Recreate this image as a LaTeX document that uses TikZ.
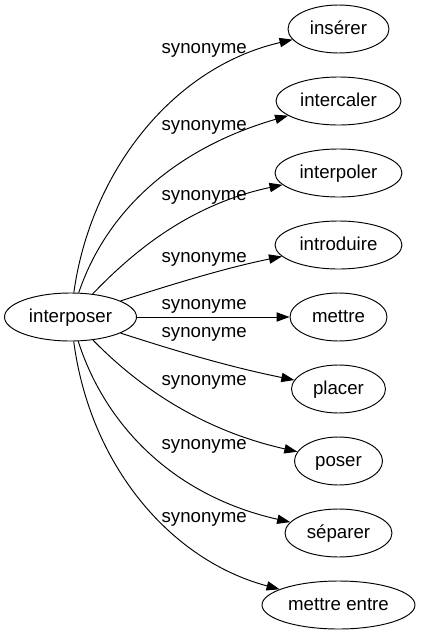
\documentclass[tikz,border=0pt]{standalone}
\usepackage{fontspec}
\setmainfont{Liberation Sans}
\usetikzlibrary{arrows.meta,shapes.geometric}
\begin{document}
\begin{tikzpicture}[x=1pt,y=-1pt,
  word/.style={draw, ellipse, line width=0.95pt, inner sep=0pt, minimum height=48pt,
    text height=14pt, text depth=4pt, font=\fontsize{18.67pt}{22pt}\selectfont},
  lbl/.style={inner sep=0pt, text height=14pt, text depth=4pt,
    font=\fontsize{18.67pt}{22pt}\selectfont},
  syn/.style={draw, line width=0.95pt, -{Triangle[length=13pt,width=9.3pt]}}]
\useasboundingbox (0,0) rectangle (421,635);
% nodes
\node[word, minimum width=132pt] (ip) at (70.5,317) {interposer};
\node[word, minimum width=101pt] (n1) at (338.5,29) {insérer};
\node[word, minimum width=125pt] (n2) at (338.5,101) {intercaler};
\node[word, minimum width=127pt] (n3) at (338.5,173) {interpoler};
\node[word, minimum width=127pt] (n4) at (338.5,245) {introduire};
\node[word, minimum width=97pt] (n5) at (338.5,317) {mettre};
\node[word, minimum width=94pt] (n6) at (338.5,389) {placer};
\node[word, minimum width=88pt] (n7) at (338.5,461) {poser};
\node[word, minimum width=107pt] (n8) at (338.5,533) {séparer};
\node[word, minimum width=153pt] (n9) at (338.5,605) {mettre entre};
% labels
\node[lbl] (l1) at (204.2,48.9) {synonyme};
\node[lbl] (l2) at (204.2,125.9) {synonyme};
\node[lbl] (l3) at (204.2,195.4) {synonyme};
\node[lbl] (l4) at (204.2,257.9) {synonyme};
\node[lbl] (l5) at (204.2,304.4) {synonyme};
\node[lbl] (l6) at (204.2,332.9) {synonyme};
\node[lbl] (l7) at (204.2,380.9) {synonyme};
\node[lbl] (l8) at (204.2,444.9) {synonyme};
\node[lbl] (l9) at (204.2,517.9) {synonyme};
% edges
\draw[syn] (ip) .. controls (90,175) and (170,68) .. (n1);
\draw[syn] (ip) .. controls (105,215) and (170,150) .. (n2);
\draw[syn] (ip) .. controls (130,255) and (187,205) .. (n3);
\draw[syn] (ip) .. controls (170,285) and (225,268) .. (n4);
\draw[syn] (ip) -- (n5);
\draw[syn] (ip) .. controls (170,349) and (225,366) .. (n6);
\draw[syn] (ip) .. controls (130,378) and (192,428) .. (n7);
\draw[syn] (ip) .. controls (104,422) and (170,495) .. (n8);
\draw[syn] (ip) .. controls (90,465) and (170,560) .. (n9);
\end{tikzpicture}
\end{document}
